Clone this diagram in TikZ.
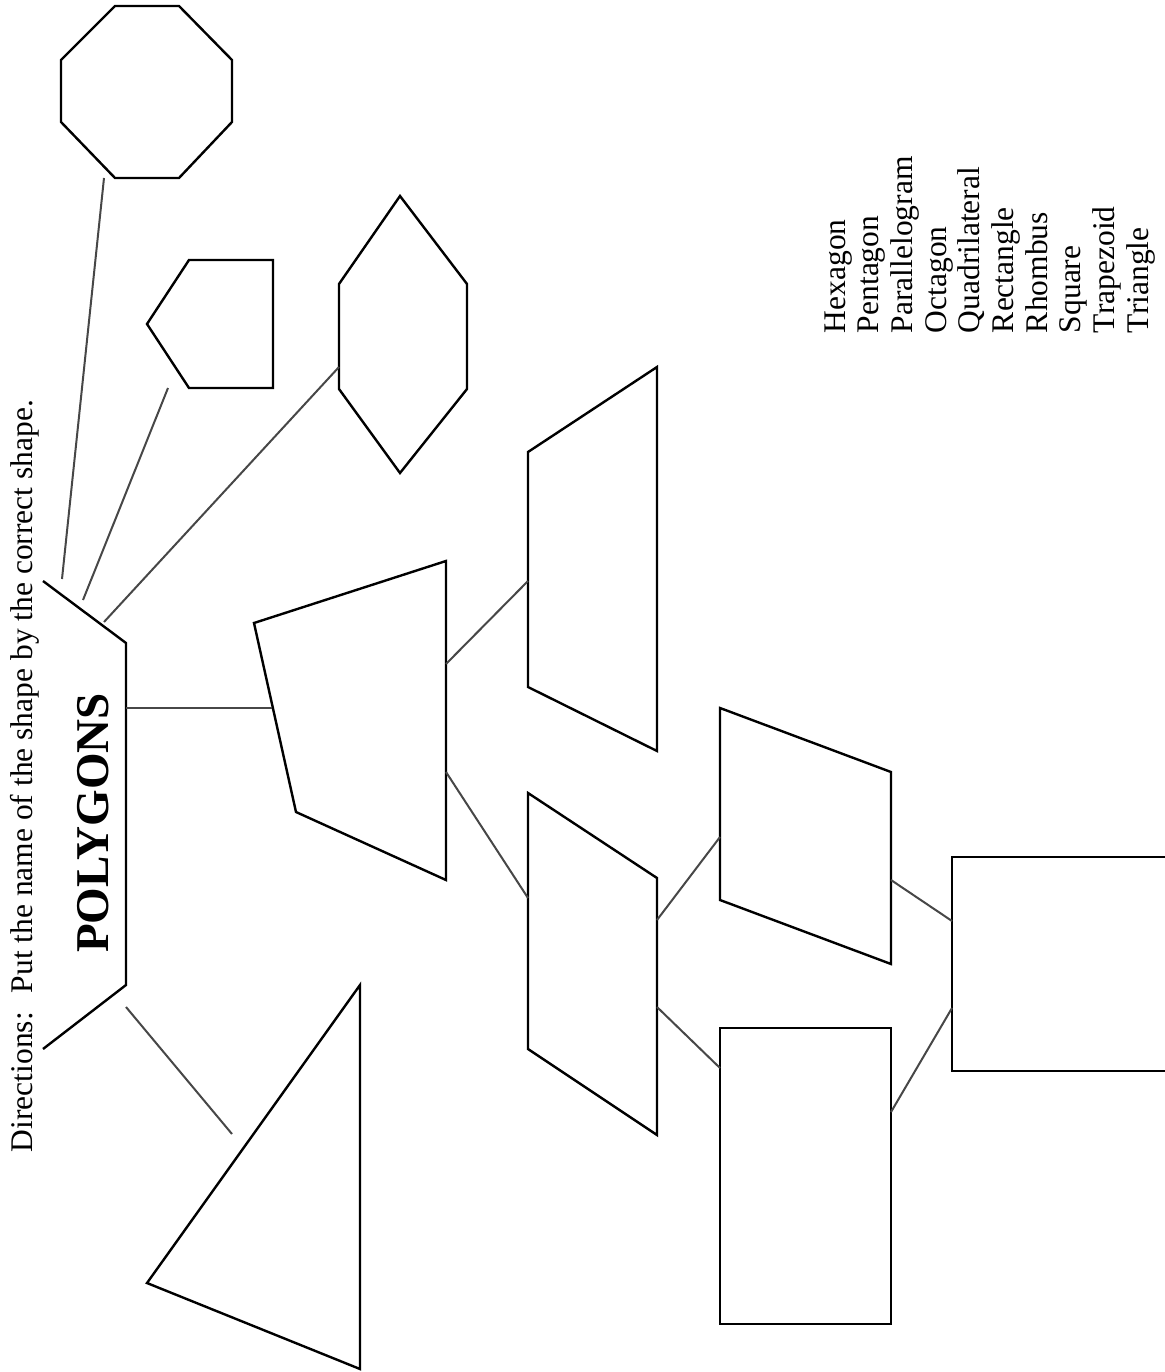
\documentclass[tikz,border=0pt]{standalone}
\usepackage{fontspec}
\setmainfont{Liberation Serif}
\begin{document}
\begin{tikzpicture}[x=1pt,y=-1pt,
  shp/.style={draw=black,line width=2.4pt,line join=miter},
  conn/.style={draw=black!72,line width=2pt},
  txt/.style={inner sep=0pt,outer sep=0pt,font=\fontsize{31.5}{34}\selectfont}]
\useasboundingbox (0,0) rectangle (1164,1372);
% Title frame
\draw[shp] (43,581) -- (126,643) -- (126,985) -- (43,1049);
\node[inner sep=0pt,rotate=90,anchor=base,font=\fontsize{47}{50}\selectfont\bfseries] (title) at (108,823) {POLYGONS};
\node[txt,rotate=90,anchor=base west] (dir) at (32,1152) {Directions:\hspace{0.6em}Put the name of the shape by the correct shape.};
% Octagon
\draw[shp] (115,6) -- (179,6) -- (232,60) -- (232,122) -- (179,178) -- (115,178) -- (61,122) -- (61,60) -- cycle;
% Pentagon
\draw[shp] (189,260) -- (273,260) -- (273,388) -- (189,388) -- (147,324) -- cycle;
% Hexagon
\draw[shp] (400,196) -- (467,284) -- (467,389) -- (400,473) -- (339,389) -- (339,284) -- cycle;
% Quadrilateral
\draw[shp] (254,623) -- (446,561) -- (446,880) -- (296,812) -- cycle;
% Trapezoid
\draw[shp] (528,452) -- (657,367) -- (657,751) -- (528,687) -- cycle;
% Parallelogram
\draw[shp] (528,793) -- (657,878) -- (657,1135) -- (528,1049) -- cycle;
% Rhombus
\draw[shp] (720,708) -- (891,772) -- (891,964) -- (720,900) -- cycle;
% Rectangle
\draw[shp] (720,1028) rectangle (891,1324);
% Square (cut at right edge)
\draw[shp] (1170,857) -- (952,857) -- (952,1071) -- (1170,1071);
% Triangle
\draw[shp] (360,985) -- (360,1369) -- (147,1283) -- cycle;
% connector end points
\coordinate (a1) at (62,579);   \coordinate (b1) at (104,178);
\coordinate (a2) at (83,600);   \coordinate (b2) at (168,388);
\coordinate (a3) at (104,622);  \coordinate (b3) at (339,367);
\coordinate (a4) at (126,708);  \coordinate (b4) at (272,708);
\coordinate (a5) at (126,1007); \coordinate (b5) at (232,1134);
\coordinate (a6) at (446,664);  \coordinate (b6) at (528,581);
\coordinate (a7) at (446,772);  \coordinate (b7) at (528,898);
\coordinate (a8) at (657,920);  \coordinate (b8) at (720,837);
\coordinate (a9) at (657,1007); \coordinate (b9) at (720,1068);
\coordinate (a10) at (891,880); \coordinate (b10) at (952,921);
\coordinate (a11) at (891,1112);\coordinate (b11) at (952,1008);
\foreach \i in {1,...,11} {\draw[conn] (a\i) -- (b\i);}
% word list
\foreach \w [count=\i from 0] in {Hexagon,Pentagon,Parallelogram,Octagon,Quadrilateral,Rectangle,Rhombus,Square,Trapezoid,Triangle} {
  \node[txt,rotate=90,anchor=base west] (w\i) at ({845+33.67*\i},333) {\w};
}
\end{tikzpicture}
\end{document}
